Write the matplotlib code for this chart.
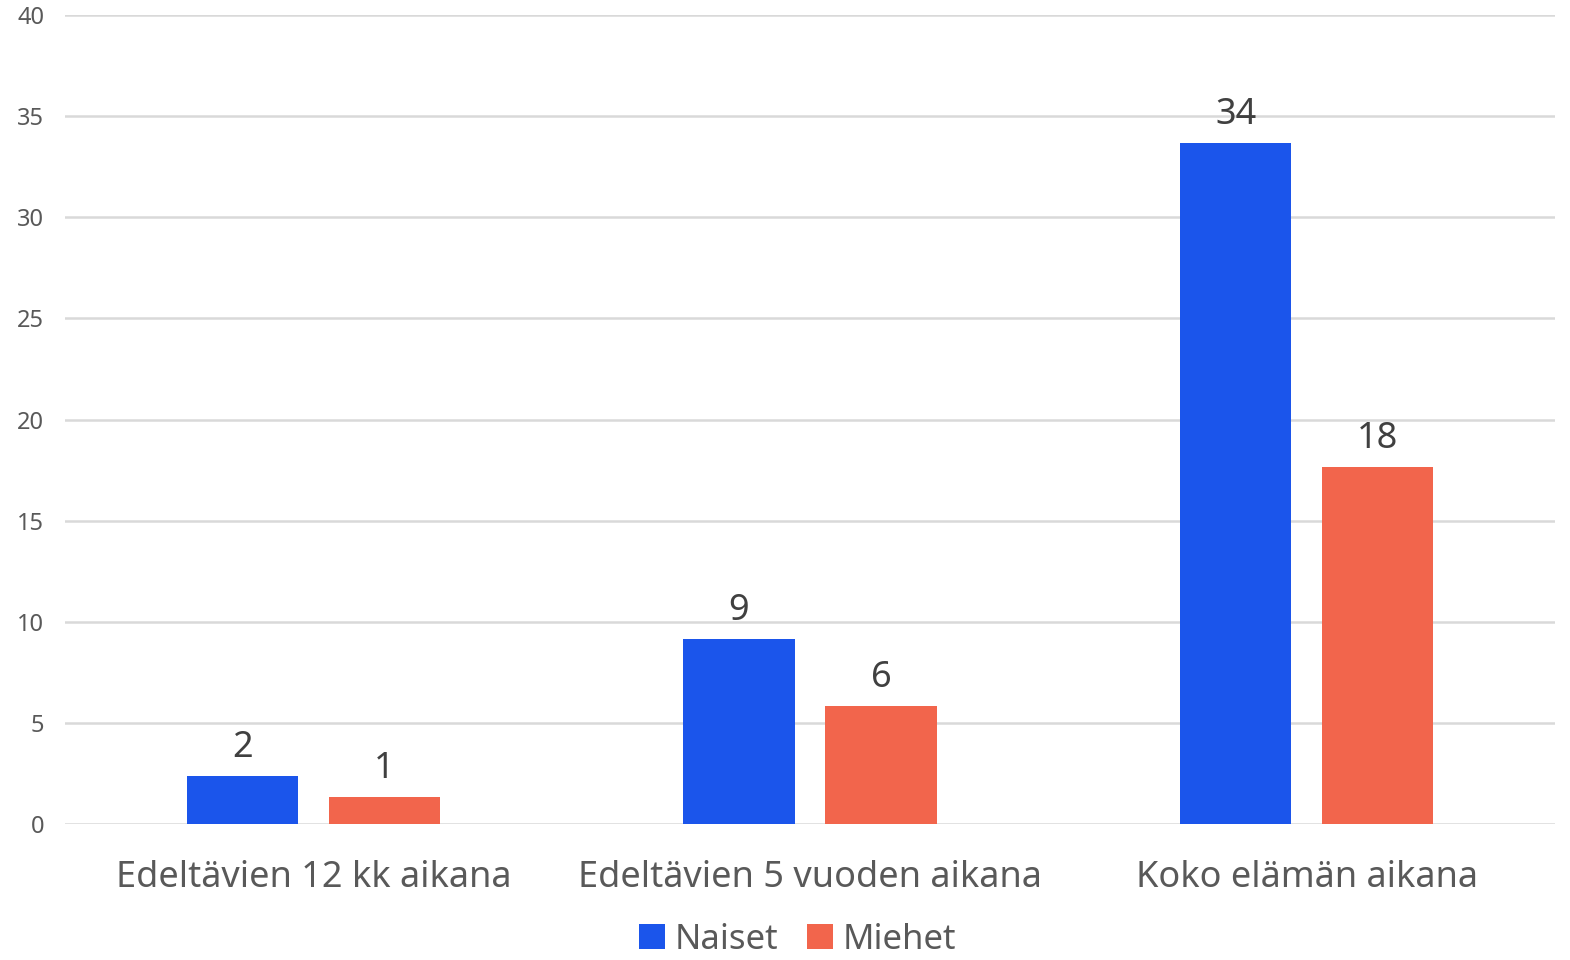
import numpy as np
import matplotlib.pyplot as plt

plt.rcParams['font.family'] = ['Noto Sans', 'DejaVu Sans']

kategoriat = ["Edeltävien 12 kk aikana", "Edeltävien 5 vuoden aikana", "Koko elämän aikana"]
naiset = [2.37, 9.15, 33.67]
miehet = [1.33, 5.83, 17.65]
naiset_lab = ["2", "9", "34"]
miehet_lab = ["1", "6", "18"]

sininen = "#1b55eb"
punainen = "#f2654c"

fig = plt.figure(figsize=(15.7, 9.6), dpi=100)
ax = fig.add_axes([0.0414, 0.1417, 0.949, 0.8425])

x = np.arange(len(kategoriat))
w = 0.224
off = 0.143
b1 = ax.bar(x - off, naiset, w, color=sininen, label="Naiset", zorder=3)
b2 = ax.bar(x + off, miehet, w, color=punainen, label="Miehet", zorder=3)

ax.bar_label(b1, labels=naiset_lab, padding=7, fontsize=26, color="#404040")
ax.bar_label(b2, labels=miehet_lab, padding=7, fontsize=26, color="#404040")

ax.set_xlim(-0.5, 2.5)
ax.set_ylim(0, 40)
ax.set_yticks(range(0, 41, 5))
ax.yaxis.grid(True, color="#d9d9d9", linewidth=1.8, zorder=0)
ax.set_xticks(x)
ax.set_xticklabels(kategoriat)
for s in ax.spines.values():
    s.set_visible(False)
ax.tick_params(axis="y", length=0, pad=15, labelsize=17, labelcolor="#595959")
ax.tick_params(axis="x", length=0, pad=26, labelsize=26, labelcolor="#595959")

leg = fig.legend(handles=[b1, b2], loc="center", bbox_to_anchor=(0.508, 0.021),
                 ncol=2, frameon=False, fontsize=25, handlelength=0.75, handleheight=0.75,
                 handletextpad=0.3, columnspacing=0.8, borderpad=0)
for t in leg.get_texts():
    t.set_color("#595959")

fig.savefig("out.png", dpi=100)
